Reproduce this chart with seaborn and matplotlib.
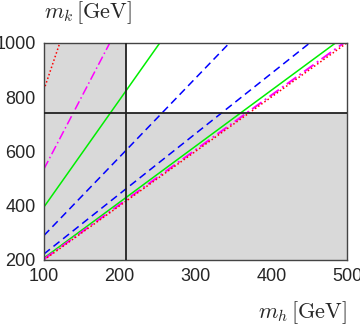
import numpy as np, matplotlib
matplotlib.use('Agg')
import matplotlib.pyplot as plt
import seaborn as sns

sns.set_style('white')
plt.rcParams['font.family'] = ['Liberation Sans', 'DejaVu Sans']
plt.rcParams['mathtext.fontset'] = 'cm'

# bounds of the excluded (gray) region
mh_cut = 208
mk_cut = 742

# straight contour lines, given by their two end points (m_h, m_k)
red_steep_x = [100, 121]
red_steep_y = [827, 1000]
mag_steep_x = [100, 187]
mag_steep_y = [535, 1000]
green_steep_x = [100, 253]
green_steep_y = [395, 1000]
blue_steep_x = [100, 345]
blue_steep_y = [290, 1000]
blue_low_x = [100, 451]
blue_low_y = [222, 1000]
green_low_x = [100, 485]
green_low_y = [207, 1000]
mag_low_x = [100, 496]
mag_low_y = [203, 1000]
red_low_x = [100, 500]
red_low_y = [200, 1000]

fig = plt.figure(figsize=(3.6, 3.27), dpi=100)
ax = fig.add_axes([0.122, 0.205, 0.842, 0.664])

gray = '#d9d9d9'
ax.axvspan(100, mh_cut, color=gray, lw=0, zorder=0)
ax.axhspan(200, mk_cut, xmin=(mh_cut - 100) / 400, xmax=1, color=gray, lw=0, zorder=0)
ax.axvline(mh_cut, color='#222222', lw=1.3, zorder=3)
ax.axhline(mk_cut, color='#222222', lw=1.3, zorder=3)

lw = 1.1
sns.lineplot(x=red_steep_x, y=red_steep_y, color='#ff0000', lw=lw, linestyle=(0, (1, 1.5)), ax=ax)
sns.lineplot(x=mag_steep_x, y=mag_steep_y, color='#ff00ff', lw=lw, linestyle=(0, (6, 2, 1, 2)), ax=ax)
sns.lineplot(x=green_steep_x, y=green_steep_y, color='#00ee00', lw=lw, ax=ax)
sns.lineplot(x=blue_steep_x, y=blue_steep_y, color='#0000ff', lw=lw, linestyle=(0, (5, 3)), ax=ax)
sns.lineplot(x=blue_low_x, y=blue_low_y, color='#0000ff', lw=lw, linestyle=(0, (5, 3)), ax=ax)
sns.lineplot(x=green_low_x, y=green_low_y, color='#00ee00', lw=lw, ax=ax)
sns.lineplot(x=mag_low_x, y=mag_low_y, color='#ff00ff', lw=lw + 0.3, linestyle=(0, (6, 2, 1, 2)), ax=ax)
sns.lineplot(x=red_low_x, y=red_low_y, color='#ff0000', lw=lw, linestyle=(0, (1, 1.5)), ax=ax)

ax.set_xlim(100, 500)
ax.set_ylim(200, 1000)
ax.set_xticks([100, 200, 300, 400, 500])
ax.set_yticks([200, 400, 600, 800, 1000])
ax.tick_params(direction='in', length=3, color='#888888', labelsize=13, pad=6)
for s in ax.spines.values():
    s.set_color('#444444')
    s.set_linewidth(1.0)

fig.text(0.122, 0.96, r'$m_k\,[\mathrm{GeV}]$', fontsize=16, ha='left', va='center')
fig.text(0.962, 0.043, r'$m_h\,[\mathrm{GeV}]$', fontsize=16, ha='right', va='center')

plt.savefig('out.png', dpi=100)
plt.close()
